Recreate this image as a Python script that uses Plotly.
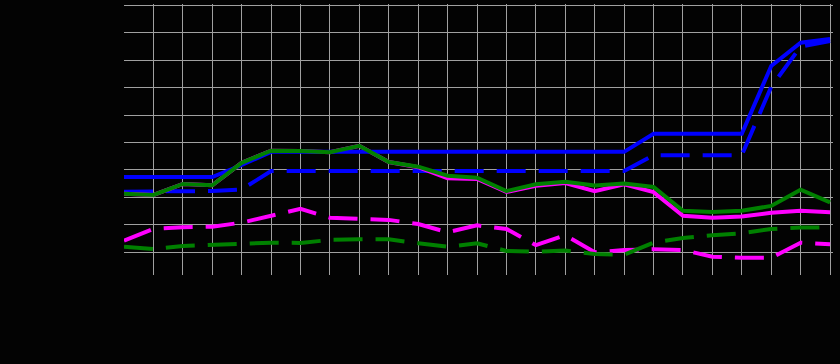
import plotly.graph_objects as go

periods = list(range(25))

blue_solid = [37.4, 37.4, 37.4, 37.4, 41.8, 46.6, 46.6, 46.6, 46.6, 46.6, 46.6, 46.6, 46.6,
              46.6, 46.6, 46.6, 46.6, 46.6, 53.2, 53.2, 53.2, 53.2, 77.9, 86.4, 87.7]
blue_dashed = [32.1, 32.1, 32.0, 32.3, 32.9, 39.6, 39.6, 39.6, 39.6, 39.6, 39.6, 39.6, 39.6,
               39.6, 39.6, 39.6, 39.6, 39.6, 45.4, 45.4, 45.4, 45.4, 70.3, 85.0, 87.0]
green_solid = [31.3, 30.9, 34.9, 34.4, 42.6, 47.0, 46.9, 46.5, 48.8, 42.9, 41.2, 37.9, 37.2,
               32.3, 34.8, 35.7, 34.3, 35.1, 33.8, 25.1, 24.7, 25.1, 26.9, 32.8, 28.2]
magenta_solid = [31.3, 30.9, 34.9, 34.4, 42.6, 47.0, 46.9, 46.5, 48.8, 42.9, 41.0, 37.0, 36.7,
                 32.0, 34.2, 35.2, 32.3, 34.8, 31.9, 23.3, 22.6, 23.0, 24.4, 25.1, 24.6]
magenta_dashed = [14.2, 18.5, 19.1, 19.3, 20.8, 23.2, 25.8, 22.6, 22.1, 21.8, 20.3, 17.3, 19.8,
                  18.5, 12.6, 16.2, 10.0, 10.8, 11.1, 10.8, 8.4, 8.0, 8.0, 13.5, 12.9]
green_dashed = [12.0, 11.2, 12.3, 12.8, 13.0, 13.5, 13.4, 14.5, 14.7, 14.7, 13.3, 12.0, 13.3,
                10.5, 10.2, 10.6, 9.4, 9.1, 13.5, 15.2, 16.2, 16.9, 18.5, 19.0, 19.0]

x_ticks = list(range(1, 25))
y_ticks = [10, 20, 30, 40, 50, 60, 70, 80, 90, 100]

DASH = "29px,13px"
series = [
    (magenta_dashed, "#FF00FF", DASH),
    (green_dashed, "#008000", DASH),
    (blue_dashed, "#0000FF", DASH),
    (magenta_solid, "#FF00FF", "solid"),
    (blue_solid, "#0000FF", "solid"),
    (green_solid, "#008000", "solid"),
]

fig = go.Figure()
for vals, col, dash in series:
    fig.add_trace(go.Scatter(x=periods, y=vals, mode="lines",
                             line=dict(color=col, width=4, dash=dash),
                             showlegend=False, hoverinfo="skip"))

fig.update_layout(
    width=840, height=364,
    margin=dict(l=124, r=7, t=4, b=89),
    paper_bgcolor="#030303", plot_bgcolor="#030303",
    showlegend=False,
    xaxis=dict(range=[0, 24.1], tickvals=x_ticks, showticklabels=False,
               showgrid=True, gridcolor="#a0a0a0", gridwidth=1,
               zeroline=False, showline=False, ticks=""),
    yaxis=dict(range=[1.71, 100.5], tickvals=y_ticks, showticklabels=False,
               showgrid=True, gridcolor="#a0a0a0", gridwidth=1,
               zeroline=False, showline=False, ticks=""),
)

fig.write_html("out.html", config={"displayModeBar": False},
               post_script="document.body.style.margin='0';document.body.style.background='#030303';")
